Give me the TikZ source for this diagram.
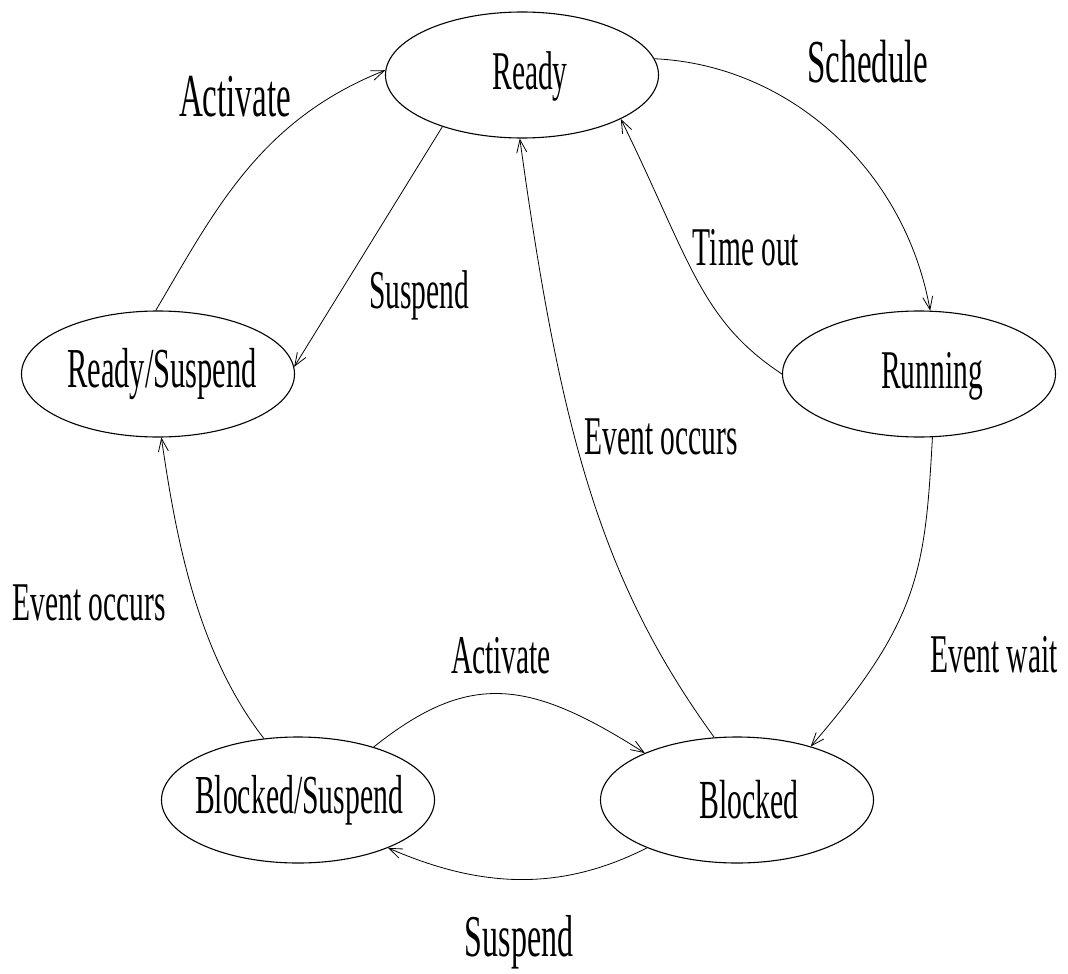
\documentclass[tikz,border=0pt]{standalone}
\usepackage{fontspec}
\setmainfont{Liberation Serif}
\usepackage{graphicx}
\usetikzlibrary{shapes.geometric,arrows.meta}
\newcommand{\lbl}[2]{\fontsize{#1}{#1}\selectfont\scalebox{1}[1.85]{#2}}
\tikzset{
  state/.style={ellipse,draw,line width=1.1pt,minimum width=273pt,minimum height=126pt,inner sep=0pt},
  conn/.style={line width=0.8pt,-{Straight Barb[length=13pt,width=10pt,line width=0.8pt]}},
  txt/.style={inner sep=0pt}
}
\begin{document}
\begin{tikzpicture}[x=1pt,y=-1pt]
\useasboundingbox (0,0) rectangle (1068,974);
% states
\node[state] (ready) at (522,75) {};
\node[state] (rs) at (158,374) {};
\node[state] (running) at (919,374) {};
\node[state] (bs) at (298,800) {};
\node[state] (bl) at (737,800) {};
% state texts
\node[txt] (tready) at (530,76) {\lbl{29.5}{Ready}};
\node[txt] (trs) at (162,374) {\lbl{30.5}{Ready/Suspend}};
\node[txt] (trunning) at (932,376) {\lbl{29.5}{Running}};
\node[txt] (tbs) at (299,800) {\lbl{29.7}{Blocked/Suspend}};
\node[txt] (tbl) at (749,800) {\lbl{29.8}{Blocked}};
% connectors
\draw[conn] (ready.7) .. controls (790,65) and (905,170) .. (running.80);
\draw[conn] (running.180) .. controls (700,320) and (690,260) .. (ready.-24);
\draw[conn] (ready.-147) -- (rs.3);
\draw[conn] (rs.92) .. controls (215,210) and (260,120) .. (ready.178);
\draw[conn] (bs.119) .. controls (195,650) and (175,530) .. (rs.-87);
\draw[conn] (bl.110) .. controls (600,580) and (560,430) .. (ready.-92);
\draw[conn] (running.-78) .. controls (925,570) and (920,620) .. (bl.36);
\draw[conn] (bs.35) .. controls (470,670) and (530,680) .. (bl.153);
\draw[conn] (bl.-152) .. controls (560,892) and (480,888) .. (bs.-28);
% edge labels
\node[txt] (lact1) at (235,97) {\lbl{33}{Activate}};
\node[txt] (lsched) at (868,62) {\lbl{33}{Schedule}};
\node[txt] (lsusp1) at (419,295) {\lbl{29.5}{Suspend}};
\node[txt] (ltime) at (746,248) {\lbl{29.5}{Time out}};
\node[txt] (lev1) at (661,437) {\lbl{29.5}{Event occurs}};
\node[txt] (lev2) at (89,603) {\lbl{29.5}{Event occurs}};
\node[txt] (lwait) at (994,655) {\lbl{29.5}{Event wait}};
\node[txt] (lact2) at (501,656) {\lbl{29.5}{Activate}};
\node[txt] (lsusp2) at (519,942) {\lbl{32}{Suspend}};
\end{tikzpicture}
\end{document}
